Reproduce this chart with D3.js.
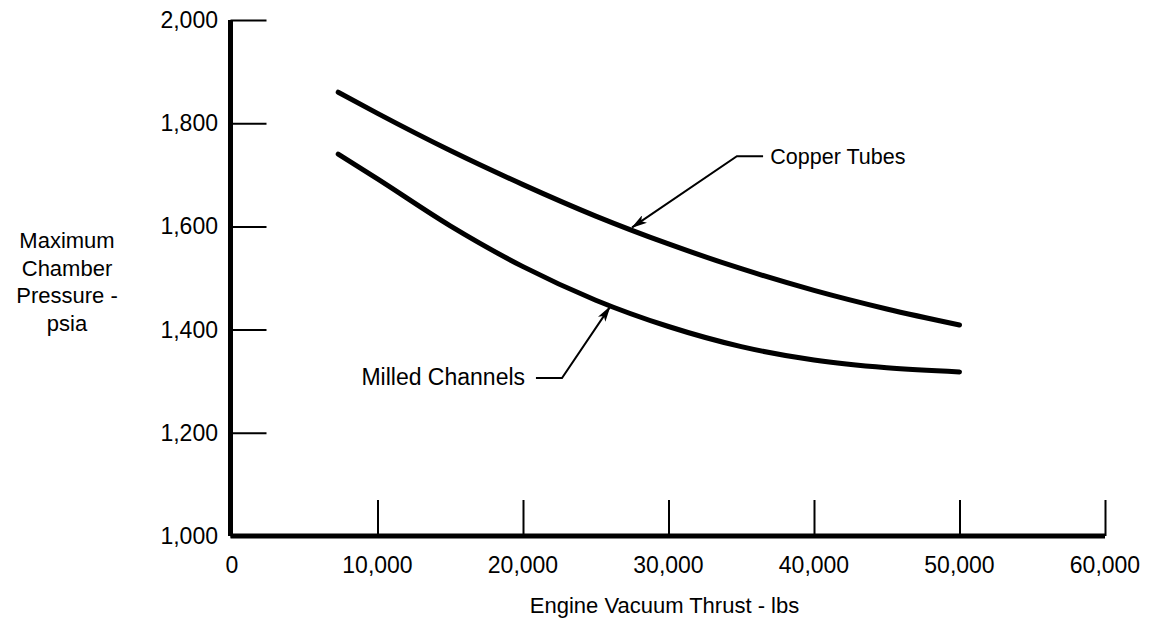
<!DOCTYPE html>
<html>
<head>
<meta charset="utf-8">
<script src="https://cdn.jsdelivr.net/npm/d3@7"></script>
<style>
  html, body { margin: 0; padding: 0; background: #fff; }
  svg { display: block; }
  text { font-family: "Liberation Sans", Arial, sans-serif; fill: #000; }
</style>
</head>
<body>
<svg id="chart" width="1154" height="618"></svg>
<script>
// ---- data ----
const xTicks = [0, 10000, 20000, 30000, 40000, 50000, 60000];
const yTicks = [1000, 1200, 1400, 1600, 1800, 2000];
const yTitleLines = ["Maximum", "Chamber", "Pressure -", "psia"];
const xTitle = "Engine Vacuum Thrust - lbs";

const copperThrust   = [7300, 10000, 15000, 20000, 25000, 30000, 35000, 40000, 45000, 50000];
const copperPressure = [1860, 1819, 1747, 1681, 1620, 1566, 1518, 1476, 1440, 1409];

const milledThrust   = [7300, 10000, 15000, 20000, 25000, 30000, 35000, 40000, 45000, 50000];
const milledPressure = [1740, 1692, 1601, 1522, 1457, 1406, 1367, 1341, 1326, 1318];

const seriesNames = ["Copper Tubes", "Milled Channels"];

// annotation anchors (data units): text position, elbow, arrow tip
const copperNote = { text: [37000, 1721], hStart: [36500, 1736], elbow: [34700, 1736], tip: [27500, 1598] };
const milledNote = { text: [20140, 1293], hStart: [20890, 1306], elbow: [22680, 1306], tip: [25980, 1444] };

// ---- scales ----
const svg = d3.select("#chart");
const x = d3.scaleLinear().domain([0, 60000]).range([232, 1105]);
const y = d3.scaleLinear().domain([1000, 2000]).range([536, 20]);
const fmt = d3.format(",");

// arrow marker
svg.append("defs").append("marker")
  .attr("id", "arrow")
  .attr("viewBox", "0 0 16 9")
  .attr("refX", 15).attr("refY", 4.5)
  .attr("markerWidth", 16).attr("markerHeight", 9)
  .attr("markerUnits", "userSpaceOnUse")
  .attr("orient", "auto")
  .append("path")
  .attr("d", "M0,0 L16,4.5 L0,9 L4,4.5 Z")
  .attr("fill", "#000");

// ---- axes ----
const yAxis = d3.axisRight(y).tickValues(yTicks).tickSize(36).tickFormat("");
const gy = svg.append("g").attr("transform", `translate(${x(0) - 1.5},0)`).call(yAxis);
gy.select(".domain").remove();
gy.selectAll(".tick line").attr("stroke", "#000").attr("stroke-width", 2);

const xAxis = d3.axisTop(x).tickValues(xTicks.filter(d => d > 0)).tickSize(36).tickFormat("");
const gx = svg.append("g").attr("transform", `translate(0,${y(1000)})`).call(xAxis);
gx.select(".domain").remove();
gx.selectAll(".tick line").attr("stroke", "#000").attr("stroke-width", 2);

// thick axis lines
svg.append("line")
  .attr("x1", x(0) - 1.5).attr("x2", x(0) - 1.5)
  .attr("y1", y(2000)).attr("y2", y(1000))
  .attr("stroke", "#000").attr("stroke-width", 5);
svg.append("line")
  .attr("x1", x(0) - 1.5).attr("x2", x(60000))
  .attr("y1", y(1000)).attr("y2", y(1000))
  .attr("stroke", "#000").attr("stroke-width", 5);

// tick labels
svg.append("g").selectAll("text").data(yTicks).join("text")
  .attr("x", 218).attr("y", d => y(d) + 8)
  .attr("text-anchor", "end")
  .attr("font-size", 23)
  .text(d => fmt(d));

svg.append("g").selectAll("text").data(xTicks).join("text")
  .attr("x", d => x(d)).attr("y", 573)
  .attr("text-anchor", "middle")
  .attr("font-size", 23)
  .text(d => fmt(d));

// axis titles
svg.append("text")
  .attr("x", x(30000) - 4).attr("y", 613)
  .attr("text-anchor", "middle")
  .attr("font-size", 22)
  .text(xTitle);

svg.append("g").selectAll("text").data(yTitleLines).join("text")
  .attr("x", 67).attr("y", (d, i) => 248 + i * 27.5)
  .attr("text-anchor", "middle")
  .attr("font-size", 22)
  .text(d => d);

// ---- curves ----
const line = d3.line()
  .x(d => x(d[0])).y(d => y(d[1]))
  .curve(d3.curveMonotoneX);

const series = [
  d3.zip(copperThrust, copperPressure),
  d3.zip(milledThrust, milledPressure)
];

svg.append("g").selectAll("path").data(series).join("path")
  .attr("d", line)
  .attr("fill", "none")
  .attr("stroke", "#000")
  .attr("stroke-width", 5)
  .attr("stroke-linecap", "round")
  .attr("stroke-linejoin", "round");

// ---- annotations ----
function note(n, label, anchor, size) {
  const g = svg.append("g");
  g.append("path")
    .attr("d", `M${x(n.hStart[0])},${y(n.hStart[1])} L${x(n.elbow[0])},${y(n.elbow[1])} L${x(n.tip[0])},${y(n.tip[1])}`)
    .attr("fill", "none")
    .attr("stroke", "#000")
    .attr("stroke-width", 2)
    .attr("marker-end", "url(#arrow)");
  g.append("text")
    .attr("x", x(n.text[0])).attr("y", y(n.text[1]))
    .attr("text-anchor", anchor)
    .attr("font-size", size)
    .text(label);
}
note(copperNote, seriesNames[0], "start", 21.5);
note(milledNote, seriesNames[1], "end", 23);
</script>
</body>
</html>
